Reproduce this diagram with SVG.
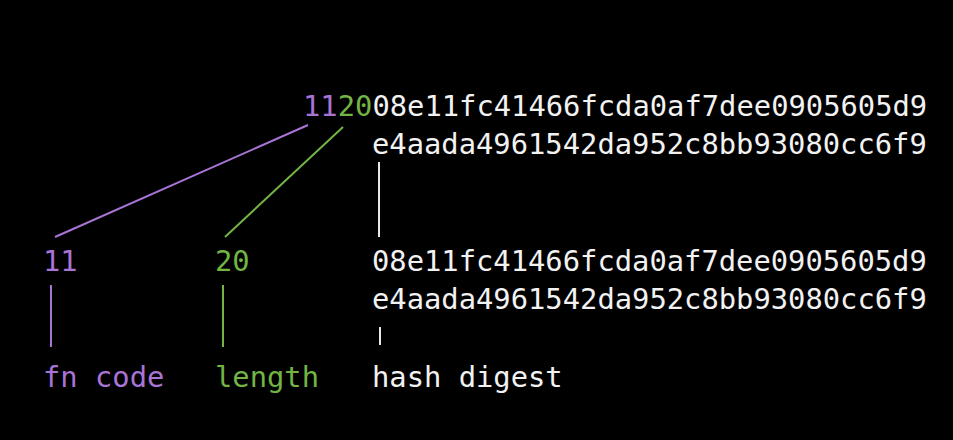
<svg xmlns="http://www.w3.org/2000/svg" width="953" height="440" viewBox="0 0 953 440">
<style>
text{font-family:"DejaVu Sans Mono","Liberation Mono",monospace;font-size:28.8px}
.w{fill:#f2f2f2}.p{fill:#a874d6}.g{fill:#72b545}
.lw{stroke:#e8e8e8;stroke-width:2}.lp{stroke:#a874d6;stroke-width:2}.lg{stroke:#72b545;stroke-width:2}
</style>
<rect width="953" height="440" fill="#000"/>
<g id="connectors">
<line class="lp" x1="308" y1="125" x2="55" y2="237"/>
<line class="lg" x1="343" y1="127" x2="225" y2="237"/>
<line class="lw" x1="379" y1="162" x2="379" y2="237"/>
<line class="lp" x1="51" y1="285" x2="51" y2="347"/>
<line class="lg" x1="223" y1="285" x2="223" y2="347"/>
<line class="lw" x1="380" y1="327" x2="380" y2="345"/>
</g>
<g id="multihash">
<text x="303" y="116"><tspan class="p">11</tspan><tspan class="g">20</tspan><tspan class="w">08e11fc41466fcda0af7dee0905605d9</tspan></text>
<text class="w" x="372" y="154">e4aada4961542da952c8bb93080cc6f9</text>
</g>
<g id="fncode">
<text class="p" x="43" y="271">11</text>
<text class="p" x="43" y="387">fn code</text>
</g>
<g id="length">
<text class="g" x="215" y="271">20</text>
<text class="g" x="215" y="387">length</text>
</g>
<g id="digest">
<text class="w" x="372" y="271">08e11fc41466fcda0af7dee0905605d9</text>
<text class="w" x="372" y="309">e4aada4961542da952c8bb93080cc6f9</text>
<text class="w" x="372" y="387">hash digest</text>
</g>
</svg>
